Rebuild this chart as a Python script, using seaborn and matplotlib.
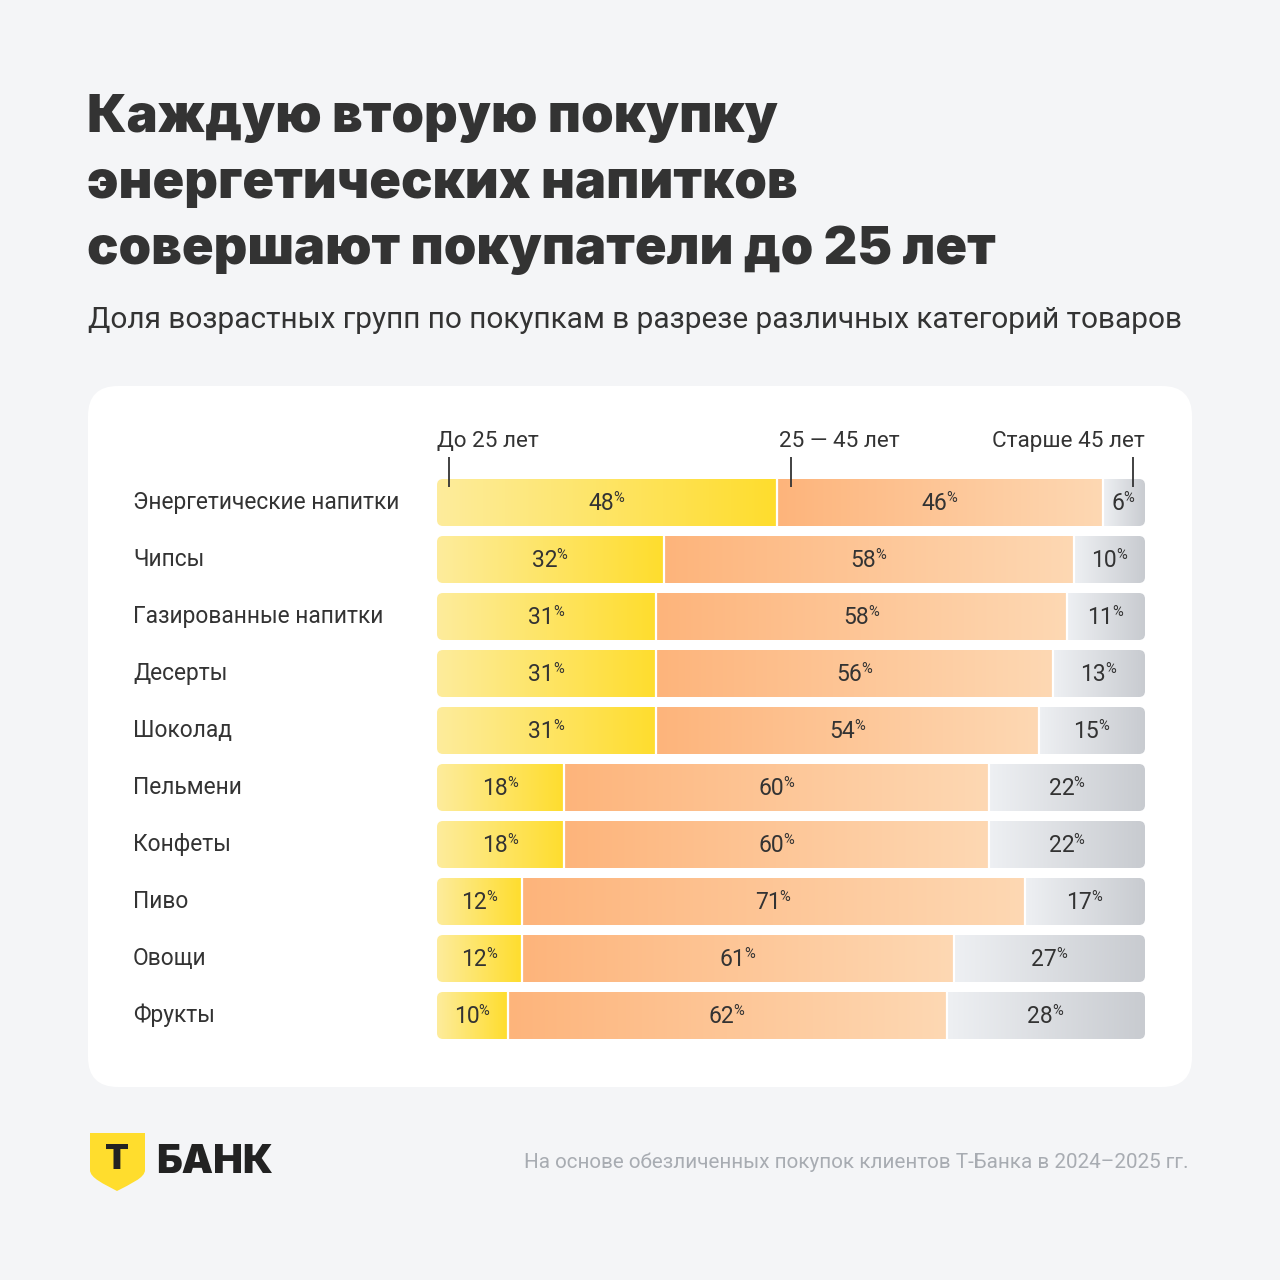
import numpy as np
import pandas as pd
import matplotlib
matplotlib.use("Agg")
import matplotlib.pyplot as plt
import seaborn as sns
from matplotlib.patches import FancyBboxPatch, PathPatch
from matplotlib.path import Path
from matplotlib.colors import LinearSegmentedColormap

# ---------------- data ----------------
categories = ["Энергетические напитки", "Чипсы", "Газированные напитки", "Десерты",
              "Шоколад", "Пельмени", "Конфеты", "Пиво", "Овощи", "Фрукты"]
under25 = [48, 32, 31, 31, 31, 18, 18, 12, 12, 10]
age25_45 = [46, 58, 58, 56, 54, 60, 60, 71, 61, 62]
over45 = [6, 10, 11, 13, 15, 22, 22, 17, 27, 28]
group_labels = ["До 25 лет", "25 — 45 лет", "Старше 45 лет"]
title_lines = ["Каждую вторую покупку", "энергетических напитков",
               "совершают покупатели до 25 лет"]
subtitle = "Доля возрастных групп по покупкам в разрезе различных категорий товаров"
footer = "На основе обезличенных покупок клиентов Т-Банка в 2024–2025 гг."

# ---------------- style ----------------
sns.set_theme(style="white")
plt.rcParams["font.family"] = ["Roboto", "DejaVu Sans"]
DARK = "#333333"
BG = "#F4F5F7"
W = H = 1280

fig = plt.figure(figsize=(12.8, 12.8), dpi=100, facecolor=BG)

def fx(px):
    return px / W

def fy(py):
    return 1 - py / H

# card
card = FancyBboxPatch((fx(88), fy(1087)), fx(1192) - fx(88), fy(386) - fy(1087),
                      boxstyle="round,pad=0,rounding_size=%f" % (30 / W),
                      transform=fig.transFigure, facecolor="white", edgecolor="none",
                      zorder=-5)
fig.patches.append(card)

# titles
for i, line in enumerate(title_lines):
    fig.text(fx(87), fy(132 + 66 * i), line, fontsize=37.6, fontweight="black",
             family=["Inter", "Roboto", "DejaVu Sans"], color=DARK, va="baseline", ha="left")
fig.text(fx(88), fy(328), subtitle, fontsize=21.4, color=DARK, va="baseline", ha="left")

# ---------------- bars ----------------
ax = fig.add_axes([fx(437), fy(1044), fx(1145) - fx(437), (1044 - 474) / H])
ax.set_facecolor("none")
ax.set_zorder(2)

df = pd.DataFrame({"cat": categories, "u": under25, "m": age25_45, "o": over45})
df["c1"] = df["u"]
df["c2"] = df["u"] + df["m"]
df["c3"] = df["u"] + df["m"] + df["o"]

BAR_H = 47 / 57
for col in ["c3", "c2", "c1"]:
    sns.barplot(data=df, y="cat", x=col, orient="h", ax=ax, color="white",
                width=BAR_H, edgecolor="none", linewidth=0)

ax.set_xlim(0, 100)
ax.set_ylim(len(categories) - 0.5, -0.5)
ax.set_xlabel("")
ax.set_ylabel("")
ax.set_xticks([])
for s in ax.spines.values():
    s.set_visible(False)
ax.tick_params(axis="y", length=0, pad=(437 - 133) * 0.72, labelsize=16.4, labelcolor=DARK)
for lab in ax.get_yticklabels():
    lab.set_ha("left")
    lab.set_va("center")

for p in ax.patches:
    p.set_visible(False)

cmaps = [
    LinearSegmentedColormap.from_list("y", ["#FDEC9C", "#FFDD2D"]),
    LinearSegmentedColormap.from_list("o", ["#FDB47B", "#FED8B3"]),
    LinearSegmentedColormap.from_list("g", ["#EEF0F3", "#C8CBD0"]),
]
grad = np.linspace(0, 1, 256).reshape(1, -1)

px_per_x = (1145 - 437) / 100
px_per_y = 57.0
r_px = 6
rx = r_px / px_per_x
ry = r_px / px_per_y

for i, row in df.iterrows():
    clip = FancyBboxPatch((0, i - BAR_H / 2), 100, BAR_H,
                          boxstyle="round,pad=0,rounding_size=%f" % rx,
                          mutation_aspect=ry / rx, transform=ax.transData,
                          facecolor="none", edgecolor="none")
    ax.add_patch(clip)
    starts = [0, row["c1"], row["c2"]]
    vals = [row["u"], row["m"], row["o"]]
    for k in range(3):
        x0, x1 = starts[k], starts[k] + vals[k]
        im = ax.imshow(grad, cmap=cmaps[k], aspect="auto",
                       extent=(x0, x1, i + BAR_H / 2, i - BAR_H / 2),
                       interpolation="bilinear", zorder=1)
        im.set_clip_path(clip)
        t = ax.text((x0 + x1) / 2 - 0.8, i + 0.02, "%d" % vals[k], ha="center",
                    va="center", fontsize=16.5, color=DARK, zorder=3)
        ax.annotate("%", xy=(1.0, 1.0), xycoords=t, xytext=(-0.6, 0.5),
                    textcoords="offset points", fontsize=10.5, color=DARK,
                    ha="left", va="top", zorder=3)
    for b in [row["c1"], row["c2"]]:
        ax.plot([b, b], [i - BAR_H / 2, i + BAR_H / 2], color="white", lw=1.6,
                zorder=2, solid_capstyle="butt")

# re-set limits after imshow
ax.set_xlim(0, 100)
ax.set_ylim(len(categories) - 0.5, -0.5)

# group headers with ticks
tick_x = [(449 - 437) / px_per_x, (791 - 437) / px_per_x, (1133 - 437) / px_per_x]
label_x = [0, (779 - 437) / px_per_x, 100]
label_ha = ["left", "left", "right"]

def ydata(py):
    return (py - 474) / px_per_y - 0.5

for k in range(3):
    ax.text(label_x[k], ydata(447), group_labels[k], ha=label_ha[k], va="baseline",
            fontsize=16.2, color=DARK, clip_on=False)
    ax.plot([tick_x[k], tick_x[k]], [ydata(457), ydata(487)], color=DARK, lw=1.3,
            clip_on=False, zorder=4, solid_capstyle="butt")

# ---------------- footer ----------------
shield = Path(
    [(90, 1133), (145, 1133), (145, 1170), (145, 1178), (130, 1184), (117, 1191),
     (104, 1184), (90, 1178), (90, 1170), (90, 1133)],
    [Path.MOVETO, Path.LINETO, Path.LINETO, Path.CURVE4, Path.CURVE4, Path.CURVE4,
     Path.CURVE4, Path.CURVE4, Path.CURVE4, Path.CLOSEPOLY])
shield_fig = Path(np.column_stack([fx(shield.vertices[:, 0]), fy(shield.vertices[:, 1])]),
                  shield.codes)
fig.patches.append(PathPatch(shield_fig, transform=fig.transFigure,
                             facecolor="#FFDD2D", edgecolor="none"))
fig.text(fx(117.5), fy(1160), "Т", fontsize=25, fontweight="black", color="#222222",
         ha="center", va="center", family=["Inter", "Roboto", "DejaVu Sans"])
fig.text(fx(156), fy(1173), "БАНК", fontsize=28.5, fontweight="black", color="#222222",
         ha="left", va="baseline", family=["Inter", "Roboto", "DejaVu Sans"])
fig.text(fx(1189), fy(1168), footer, fontsize=14.9, color="#A8ACB2", ha="right",
         va="baseline")

fig.savefig("out.png", dpi=100, facecolor=BG)
